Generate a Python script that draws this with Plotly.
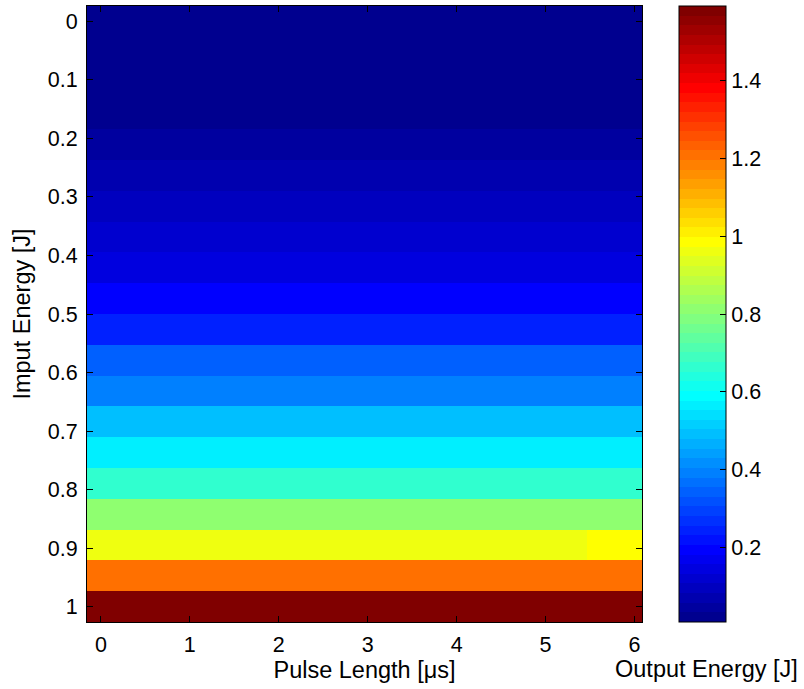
import plotly.graph_objects as go

# ---- data ----
pulse_length_us = [0.0, 0.312, 0.624, 0.936, 1.248, 1.56, 1.872, 2.184, 2.496, 2.808,
                   3.12, 3.432, 3.744, 4.056, 4.368, 4.68, 4.992, 5.304, 5.616, 5.928]
input_energy_J = [0.0, 0.0526, 0.1053, 0.1579, 0.2105, 0.2632, 0.3158, 0.3684, 0.4211, 0.4737,
                  0.5263, 0.5789, 0.6316, 0.6842, 0.7368, 0.7895, 0.8421, 0.8947, 0.9474, 1.0]
# output energy per input-energy row (nearly constant along pulse length)
output_row_J = [0.0085, 0.012, 0.018, 0.028, 0.045, 0.07, 0.095, 0.12, 0.145, 0.19,
                0.24, 0.34, 0.39, 0.49, 0.565, 0.665, 0.81, 0.96, 1.208, 1.592]
# row 0.8947 gets slightly higher for the longest pulses
row_exception_index = 17
row_exception_cols = [18, 19]
row_exception_value = 0.986

x_ticks = [0, 1, 2, 3, 4, 5, 6]
y_ticks = [0, 0.1, 0.2, 0.3, 0.4, 0.5, 0.6, 0.7, 0.8, 0.9, 1.0]
y_ticktext = ["0", "0.1", "0.2", "0.3", "0.4", "0.5", "0.6", "0.7", "0.8", "0.9", "1"]
cb_ticks = [0.2, 0.4, 0.6, 0.8, 1.0, 1.2, 1.4]
cb_ticktext = ["0.2", "0.4", "0.6", "0.8", "1", "1.2", "1.4"]

z = [[v for _ in pulse_length_us] for v in output_row_J]
for c in row_exception_cols:
    z[row_exception_index][c] = row_exception_value

zmin = min(min(r) for r in z)
zmax = max(max(r) for r in z)


# ---- MATLAB jet(64) discrete colorscale ----
def jet64():
    n, m = 64, 16
    u = [k / m for k in range(1, m + 1)] + [1.0] * (m - 1) + [k / m for k in range(m, 0, -1)]
    g = [8 + i for i in range(1, len(u) + 1)]
    r = [gi + m for gi in g]
    b = [gi - m for gi in g]
    R = [0.0] * (n + 1); G = [0.0] * (n + 1); B = [0.0] * (n + 1)
    rr = [x for x in r if x <= n]
    gg = [x for x in g if x <= n]
    bb = [x for x in b if x >= 1]
    for i, idx in enumerate(rr):
        R[idx] = u[i]
    for i, idx in enumerate(gg):
        G[idx] = u[i]
    for i, idx in enumerate(bb):
        B[idx] = u[len(u) - len(bb) + i]
    return [(R[k], G[k], B[k]) for k in range(1, n + 1)]


cols = jet64()
colorscale = []
for i, (r_, g_, b_) in enumerate(cols):
    c = "rgb(%d,%d,%d)" % (round(r_ * 255), round(g_ * 255), round(b_ * 255))
    colorscale.append([i / 64, c])
    colorscale.append([(i + 1) / 64, c])

FONT = "Liberation Sans, Arial, Helvetica, sans-serif"
TICK = 21.5
LABEL = 23.5

W, H = 804, 689
ml, mr, mt, mb = 87, 162, 6, 67
plot_w = W - ml - mr
plot_h = H - mt - mb
cb_x = (679 - ml) / plot_w

fig = go.Figure(go.Heatmap(
    x=pulse_length_us, y=input_energy_J, z=z,
    zmin=zmin, zmax=zmax, colorscale=colorscale, zsmooth=False,
    colorbar=dict(
        x=cb_x, xanchor="left", xpad=0, ypad=0,
        y=0.5, yanchor="middle", len=1, lenmode="fraction",
        thickness=47, thicknessmode="pixels",
        outlinecolor="black", outlinewidth=1,
        tickvals=cb_ticks, ticktext=cb_ticktext,
        ticks="inside", ticklen=6, tickcolor="black",
        tickfont=dict(family=FONT, size=TICK, color="black"),
    ),
))

shapes = []
for v in cb_ticks:
    yp = (v - zmin) / (zmax - zmin)
    shapes.append(dict(type="line", xref="paper", yref="paper",
                       x0=cb_x, x1=cb_x + 6 / plot_w, y0=yp, y1=yp,
                       line=dict(color="black", width=1)))

fig.update_layout(
    width=W, height=H,
    margin=dict(l=ml, r=mr, t=mt, b=mb, autoexpand=False),
    paper_bgcolor="white", plot_bgcolor="white",
    font=dict(family=FONT, size=TICK, color="black"),
    shapes=shapes,
    annotations=[dict(text="Output Energy [J]", xref="paper", yref="paper",
                      x=(706 - ml) / plot_w, y=-(669 - (H - mb)) / plot_h,
                      xanchor="center", yanchor="middle", showarrow=False,
                      font=dict(family=FONT, size=LABEL, color="black"))],
    xaxis=dict(
        tickvals=x_ticks, ticks="inside", ticklen=6, tickcolor="black",
        showline=True, linecolor="black", linewidth=1, mirror="ticks",
        showgrid=False, zeroline=False,
        tickfont=dict(size=TICK), ticklabelstandoff=3,
        title=dict(text="Pulse Length [μs]", font=dict(size=LABEL), standoff=2),
        automargin=False,
    ),
    yaxis=dict(
        autorange="reversed",
        tickvals=y_ticks, ticktext=y_ticktext, ticks="inside", ticklen=6, tickcolor="black",
        showline=True, linecolor="black", linewidth=1, mirror="ticks",
        showgrid=False, zeroline=False,
        tickfont=dict(size=TICK), ticklabelstandoff=4,
        title=dict(text="Imput Energy [J]", font=dict(size=LABEL), standoff=10),
        automargin=False,
    ),
)

fig.write_html("out.html")
